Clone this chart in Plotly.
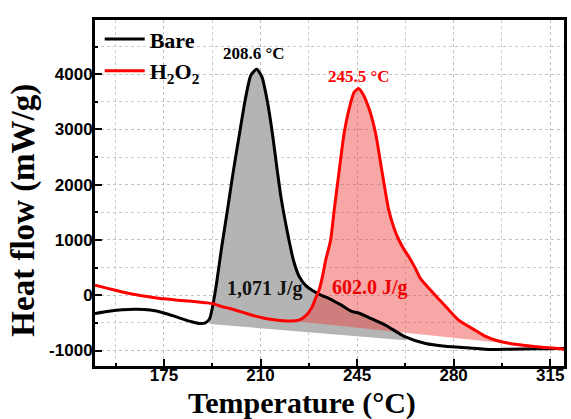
import plotly.graph_objects as go

# ---- data ----
bare_x = [150, 155, 160, 165, 170, 175, 180, 185, 187.9, 190, 191.5, 192.6, 194, 196, 198, 200,
          202.4, 204.5, 206.5, 208.6, 210.5, 212.5, 214.3, 216, 217.4, 219, 220.5, 222, 224, 226.5,
          228.7, 232, 234.9, 239, 243, 246, 250, 255.3, 262.5, 269.8, 277, 285, 293.7, 300, 310, 318, 320]
bare_y = [-330, -290, -262, -253, -268, -320, -400, -480, -512, -500, -430, -211, 200, 900, 1537, 2200,
          2930, 3550, 3980, 4090, 3950, 3500, 2930, 2280, 1780, 1330, 950, 620, 340, 170,
          90, 0, -60, -170, -290, -330, -420, -542, -754, -873, -922, -950, -980, -975, -970, -964, -965]

h2o2_x = [150, 155, 160, 165, 170, 175, 180, 185, 190, 192.6, 195, 198.8, 203, 207, 211, 214.3, 218,
          221.5, 223.5, 225.1, 227, 228.7, 230, 231.2, 232.5, 233.6, 235.4, 236.7, 238.5, 240.3, 242.5,
          244, 245.5, 247, 249.5, 251.7, 254, 256.5, 258.5, 260.2, 262, 263.8, 266, 268, 271.5, 275,
          278.5, 281.8, 287.8, 291.4, 295, 300, 305.9, 312, 318, 320]
h2o2_y = [181, 120, 60, 10, -30, -65, -90, -110, -135, -150, -190, -241, -300, -362, -410, -440, -460,
          -465, -455, -421, -340, -211, -50, 90, 350, 633, 995, 1537, 2250, 2930, 3450,
          3680, 3740, 3650, 3350, 2930, 2250, 1537, 1200, 995, 830, 693, 500, 300, 100, -90,
          -280, -450, -633, -740, -810, -870, -910, -940, -964, -980]

# integration baselines (start, end)
bare_base_x = [191.5, 262.5]
bare_base_y = [-520, -814]
h2o2_base_x = [222, 320]
h2o2_base_y = [-465, -980]

peak_labels = ["208.6 °C", "245.5 °C"]
enthalpy_labels = ["1,071 J/g", "602.0 J/g"]
series_names = ["Bare", "H<sub>2</sub>O<sub>2</sub>"]

x_ticks = [175, 210, 245, 280, 315]
y_ticks = [-1000, 0, 1000, 2000, 3000, 4000, 5000]


def fill_polygon(xs, ys, bx, by):
    px = [bx[0]] + [x for x in xs if bx[0] < x < bx[1]] + [bx[1]]
    py = [by[0]]
    for x, y in zip(xs, ys):
        if bx[0] < x < bx[1]:
            py.append(y)
    end_y = ys[min(range(len(xs)), key=lambda i: abs(xs[i] - bx[1]))]
    py.append(end_y)
    px += [bx[1], bx[0]]
    py += [by[1], by[0]]
    return px, py


fig = go.Figure()

gx, gy = fill_polygon(bare_x, bare_y, bare_base_x, bare_base_y)
fig.add_trace(go.Scatter(x=gx, y=gy, fill="toself", mode="lines", line=dict(width=0),
                         fillcolor="rgb(180,180,180)", showlegend=False, hoverinfo="skip"))
rx, ry = fill_polygon(h2o2_x, h2o2_y, h2o2_base_x, h2o2_base_y)
fig.add_trace(go.Scatter(x=rx, y=ry, fill="toself", mode="lines", line=dict(width=0),
                         fillcolor="rgba(240,60,60,0.45)", showlegend=False, hoverinfo="skip"))

fig.add_trace(go.Scatter(x=bare_x, y=bare_y, mode="lines", name=series_names[0],
                         line=dict(color="black", width=3, shape="spline", smoothing=0.6)))
fig.add_trace(go.Scatter(x=h2o2_x, y=h2o2_y, mode="lines", name=series_names[1],
                         line=dict(color="#ff0000", width=3, shape="spline", smoothing=0.6)))

serif = "Liberation Serif"
ann = [
    dict(x=207.6, y=4376, text=peak_labels[0], color="black", size=17),
    dict(x=245.8, y=3960, text=peak_labels[1], color="#ff0000", size=17),
    dict(x=211.6, y=127, text=enthalpy_labels[0], color="#111111", size=20),
    dict(x=249.8, y=145, text=enthalpy_labels[1], color="#ee0000", size=20),
]
for a in ann:
    fig.add_annotation(x=a["x"], y=a["y"], text=a["text"], showarrow=False, xref="x", yref="y",
                       font=dict(family=serif, size=a["size"], color=a["color"], weight="bold"))

fig.add_annotation(x=0.441, y=-0.107, xref="paper", yref="paper", text="Temperature (°C)",
                   showarrow=False, yanchor="middle",
                   font=dict(family=serif, size=30, color="black", weight="bold"))
fig.add_annotation(x=-0.152, y=0.451, xref="paper", yref="paper", text="Heat flow (mW/g)",
                   showarrow=False, textangle=-90, xanchor="center", yanchor="middle",
                   font=dict(family=serif, size=33, color="black", weight="bold"))

tickfont = dict(family="Liberation Sans", size=17, color="black", weight="bold")
grid = "rgba(190,190,190,0.8)"
fig.update_xaxes(range=[150, 320], tickvals=x_ticks, ticktext=[str(v) for v in x_ticks],
                 ticks="inside", ticklen=7, tickwidth=2, tickcolor="black", ticklabelstandoff=-8,
                 showline=True, linecolor="black", linewidth=3, mirror=True,
                 showgrid=True, gridcolor=grid, griddash="dot", gridwidth=1,
                 minor=dict(dtick=17.5, tick0=175, ticks="inside", ticklen=3, tickwidth=2,
                            tickcolor="black", showgrid=True, gridcolor=grid, griddash="dot"),
                 tickfont=tickfont, zeroline=False)
fig.update_yaxes(range=[-1280, 4980], tickvals=y_ticks, ticktext=[str(v) for v in y_ticks],
                 ticks="inside", ticklen=7, tickwidth=2, tickcolor="black", ticklabelstandoff=-4,
                 showline=True, linecolor="black", linewidth=3, mirror=True,
                 showgrid=True, gridcolor=grid, griddash="dot", gridwidth=1,
                 minor=dict(dtick=500, tick0=0, ticks="inside", ticklen=3, tickwidth=2,
                            tickcolor="black", showgrid=True, gridcolor=grid, griddash="dot"),
                 tickfont=tickfont, zeroline=False)

fig.update_layout(
    width=571, height=419,
    margin=dict(l=95, r=4, t=20, b=53),
    paper_bgcolor="white", plot_bgcolor="white",
    legend=dict(x=0.01, y=1.005, xanchor="left", yanchor="top", bgcolor="rgba(0,0,0,0)",
                font=dict(family=serif, size=22, color="black", weight="bold"),
                tracegroupgap=0, itemwidth=40),
    showlegend=True,
)

fig.write_html("out.html")
